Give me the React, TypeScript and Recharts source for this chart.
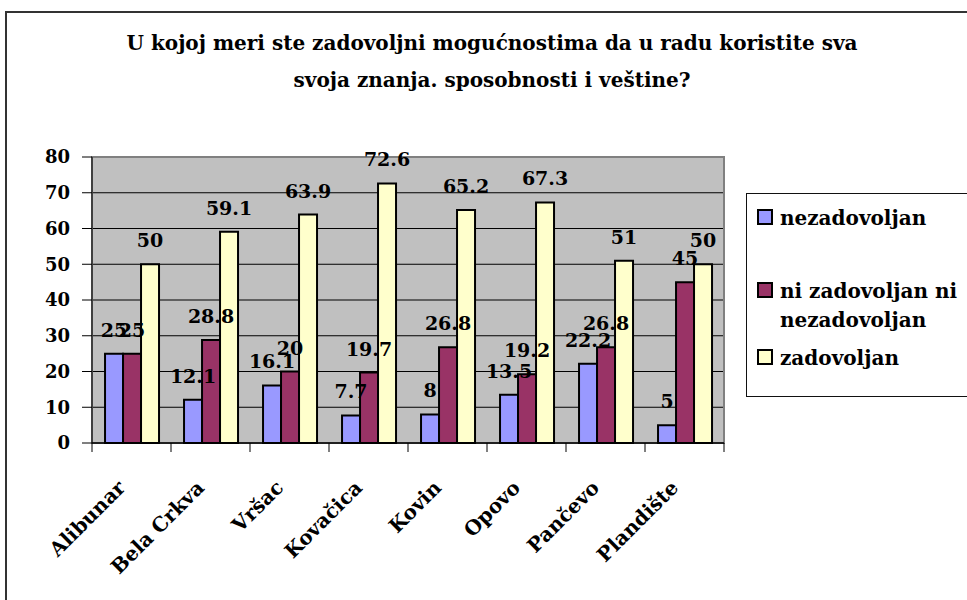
import React from 'react';
import { BarChart, Bar, XAxis, YAxis, CartesianGrid, LabelList, Legend, ReferenceArea } from 'recharts';

const categories = ['Alibunar', 'Bela Crkva', 'Vršac', 'Kovačica', 'Kovin', 'Opovo', 'Pančevo', 'Plandište'];
const nezadovoljan = [25, 12.1, 16.1, 7.7, 8, 13.5, 22.2, 5];
const niZadovoljanNiNezadovoljan = [25, 28.8, 20, 19.7, 26.8, 19.2, 26.8, 45];
const zadovoljan = [50, 59.1, 63.9, 72.6, 65.2, 67.3, 51, 50];
const seriesNames = ['nezadovoljan', 'ni zadovoljan ni nezadovoljan', 'zadovoljan'];
const seriesColors = ['#9999FF', '#993366', '#FFFFCC'];
const yTicks = [0, 10, 20, 30, 40, 50, 60, 70, 80];
const titleLines = ['U kojoj meri ste zadovoljni mogućnostima da u radu koristite sva', 'svoja znanja. sposobnosti i veštine?'];

const data = categories.map((name, i) => ({
  name,
  s0: nezadovoljan[i],
  s1: niZadovoljanNiNezadovoljan[i],
  s2: zadovoljan[i],
}));

const FONT = '"DejaVu Serif", "Liberation Serif", serif';

const XTick = (props: any) => {
  const { x, y, payload, width, visibleTicksCount, index } = props;
  const half = payload && payload.offset ? payload.offset : (width && visibleTicksCount ? width / visibleTicksCount / 2 : 0);
  const isLast = index === (visibleTicksCount || 0) - 1;
  return (
    <g>
      <line x1={x - half} x2={x - half} y1={y} y2={y + 9} stroke="#000" strokeWidth={1} />
      {isLast ? <line x1={x + half} x2={x + half} y1={y} y2={y + 9} stroke="#000" strokeWidth={1} /> : null}
      <g transform={`translate(${x - 5},${y + 46})`}>
        <text x={0} y={0} textAnchor="end" transform="rotate(-45)" fontFamily={FONT} fontWeight="bold" fontSize={20} fill="#000">
          {payload.value}
        </text>
      </g>
    </g>
  );
};

const LegendContent = (props: any) => {
  const payload = props.payload || [];
  return (
    <div style={{ position: 'relative', width: 240, height: 204, border: '1px solid #111', boxSizing: 'border-box', background: '#fff' }}>
      {payload.map((p: any, i: number) => (
        <div key={i} style={{ position: 'absolute', left: 10, top: [10, 83, 150][i], display: 'flex', alignItems: 'flex-start' }}>
          <div style={{ width: 16, height: 16, marginTop: 5, boxSizing: 'border-box', border: '2px solid #000', background: p.color, flex: 'none' }} />
          <div style={{ marginLeft: 7, width: 192, fontFamily: FONT, fontWeight: 'bold', fontSize: 20, lineHeight: '29px', color: '#000' }}>{p.value}</div>
        </div>
      ))}
    </div>
  );
};

const labelStyle = { fontFamily: FONT, fontWeight: 'bold' as const, fontSize: 19, fill: '#000' };

export default function App() {
  return (
    <div style={{ position: 'absolute', left: 0, top: 0, width: 967, height: 600, overflow: 'hidden', background: '#fff' }}>
      <div style={{ position: 'absolute', left: 5, top: 11, width: 1000, height: 700, border: '2px solid #333' }} />
      {titleLines.map((t, i) => (
        <div key={i} style={{ position: 'absolute', left: 0, width: 984, top: 33 + i * 37, textAlign: 'center', fontFamily: FONT, fontWeight: 'bold', fontSize: 20, lineHeight: '20px', color: '#000', whiteSpace: 'nowrap' }}>{t}</div>
      ))}
      <div style={{ position: 'absolute', left: 0, top: 0 }}>
        <BarChart width={967} height={600} data={data} margin={{ top: 157, right: 243, left: 32, bottom: 57 }} barCategoryGap="16.5%" barGap={0}>
          <CartesianGrid vertical={false} stroke="#000" fill="#C0C0C0" fillOpacity={1} />
          <ReferenceArea y1={0} y2={80} fill="none" stroke="#808080" strokeWidth={2} ifOverflow="visible" />
          <XAxis dataKey="name" interval={0} height={100} tickLine={false} tickSize={0} tickMargin={0} axisLine={{ stroke: '#000', strokeWidth: 1.5 }} tick={<XTick />} />
          <YAxis domain={[0, 80]} ticks={yTicks} interval={0} width={60} tickSize={10} tickMargin={12} axisLine={{ stroke: '#000' }} tickLine={{ stroke: '#000' }} tick={{ fontFamily: FONT, fontWeight: 'bold', fontSize: 18, fill: '#000' }} />
          <Legend layout="vertical" align="center" verticalAlign="middle" content={<LegendContent />} wrapperStyle={{ left: 746, top: 193, width: 240, height: 204 }} />
          {['s0', 's1', 's2'].map((k, i) => (
            <Bar key={k} dataKey={k} name={seriesNames[i]} fill={seriesColors[i]} stroke="#000" strokeWidth={2} isAnimationActive={false}>
              <LabelList dataKey={k} position="top" offset={17} style={labelStyle} />
            </Bar>
          ))}
        </BarChart>
      </div>
    </div>
  );
}
